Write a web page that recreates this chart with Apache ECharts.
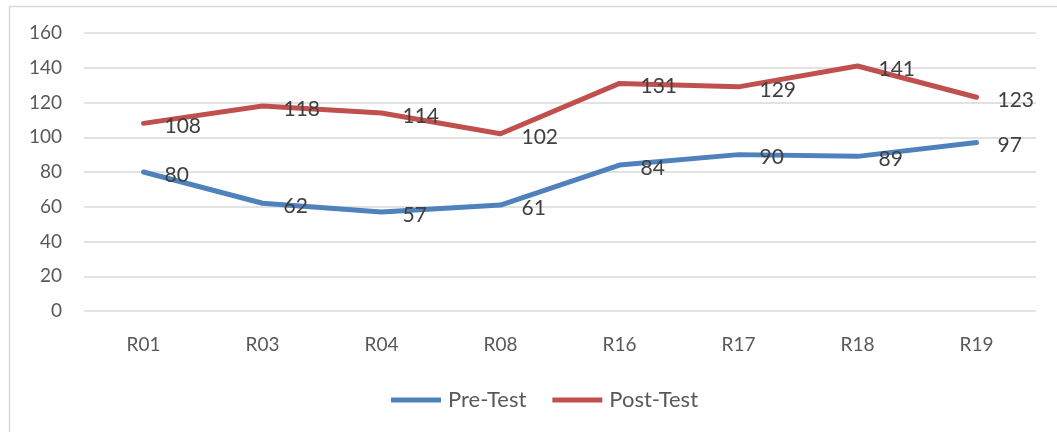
<!DOCTYPE html>
<html>
<head>
<meta charset="utf-8">
<script src="https://cdn.jsdelivr.net/npm/echarts@6/dist/echarts.min.js"></script>
<style>
html,body{margin:0;padding:0;background:#fff;}
#chart{width:1057px;height:432px;}
</style>
</head>
<body>
<div id="chart"></div>
<script>
var categories = ['R01','R03','R04','R08','R16','R17','R18','R19'];
var preTest = [80, 62, 57, 61, 84, 90, 89, 97];
var postTest = [108, 118, 114, 102, 131, 129, 141, 123];
var yTicks = { min: 0, max: 160, interval: 20 };

var FONT = 'Lato, "Open Sans", sans-serif';
var chart = echarts.init(document.getElementById('chart'));
function series(name, data, color) {
  return {
    name: name, type: 'line', data: data,
    symbol: 'circle', symbolSize: 0, showSymbol: true,
    lineStyle: { color: color, width: 5, cap: 'round', join: 'round' },
    itemStyle: { color: color },
    label: {
      show: true, position: 'right', distance: 21, offset: [0, 3],
      color: '#404040', fontSize: 21, fontFamily: FONT
    },
    emphasis: { disabled: true },
    animation: false
  };
}
chart.setOption({
  animation: false,
  graphic: [{
    type: 'rect', left: 7, top: 4, z: -1,
    shape: { width: 1070, height: 450 },
    style: { fill: 'none', stroke: '#d9d9d9', lineWidth: 1.5 }
  }],
  grid: { left: 84, right: 21, top: 33, bottom: 121 },
  legend: {
    top: 384, left: 386, itemWidth: 50, itemHeight: 5, itemGap: 26,
    icon: 'rect',
    textStyle: { color: '#595959', fontSize: 22, fontFamily: FONT, padding: [0, 0, 0, 2] },
    data: ['Pre-Test', 'Post-Test']
  },
  xAxis: {
    type: 'category', data: categories, boundaryGap: true,
    axisLine: { show: false }, axisTick: { show: false },
    axisLabel: { color: '#595959', fontSize: 19, fontFamily: FONT, margin: 24 }
  },
  yAxis: {
    type: 'value', min: yTicks.min, max: yTicks.max, interval: yTicks.interval,
    axisLine: { show: false }, axisTick: { show: false },
    axisLabel: { color: '#595959', fontSize: 19, fontFamily: FONT, margin: 22 },
    splitLine: { lineStyle: { color: '#d9d9d9', width: 1.5 } }
  },
  series: [
    series('Pre-Test', preTest, '#4F81BD'),
    series('Post-Test', postTest, '#C0504D')
  ]
});
</script>
</body>
</html>
